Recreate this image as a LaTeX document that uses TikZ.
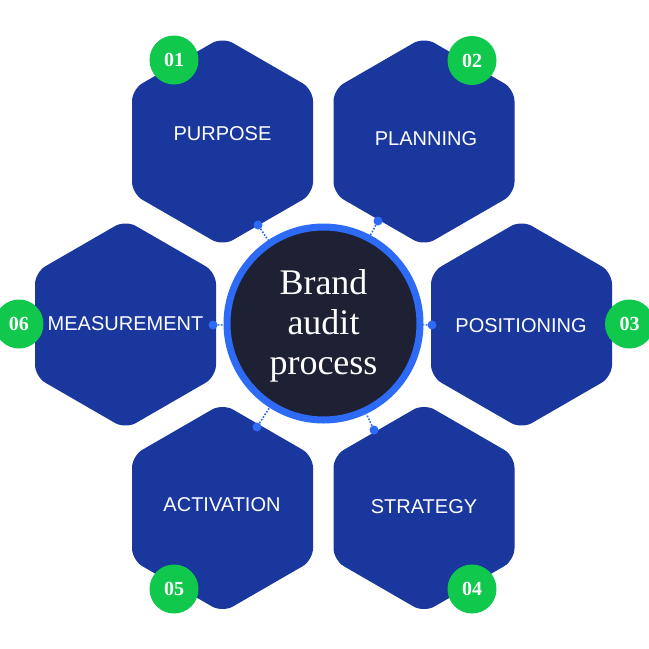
\documentclass[tikz,border=0pt]{standalone}
\usepackage{fontspec}
\setmainfont{Liberation Serif}
\newfontfamily\labelfont{Liberation Sans}
\usetikzlibrary{calc}
\definecolor{hexblue}{HTML}{1A379E}
\definecolor{ringblue}{HTML}{2D6AF6}
\definecolor{hubdark}{HTML}{1D2133}
\definecolor{badgegreen}{HTML}{10C84B}
\tikzset{
  hexfill/.style={fill=hexblue, rounded corners=12pt},
  hexlabel/.style={text=white, font=\labelfont\fontsize{20}{24}\selectfont, inner sep=0pt},
  badge/.style={circle, fill=badgegreen, minimum size=49pt, inner sep=0pt, text=white, font=\bfseries\fontsize{20}{22}\selectfont},
  hub/.style={circle, fill=hubdark, draw=ringblue, line width=7pt, minimum size=193pt, inner sep=0pt},
  hubtext/.style={text=white, align=center, font=\fontsize{36}{40}\selectfont},
  dotnode/.style={circle, fill=ringblue, minimum size=9pt, inner sep=0pt},
  dotline/.style={draw=ringblue, line width=1.6pt, dash pattern=on 1.6pt off 1.6pt},
}
\begin{document}
\begin{tikzpicture}[x=1pt, y=-1pt]
\useasboundingbox (0,0) rectangle (649,649);
\fill[white] (0,0) rectangle (649,649);
% hexagons
\foreach \cx/\cy in {222.5/141.5, 424/141.5, 521.5/324.5, 424/508, 222.5/508, 125.5/324.5}{
  \fill[hexfill] (\cx, \cy+104.5) -- (\cx+90.5, \cy+52.25) -- (\cx+90.5, \cy-52.25)
    -- (\cx, \cy-104.5) -- (\cx-90.5, \cy-52.25) -- (\cx-90.5, \cy+52.25) -- cycle;
}
% hub
\node[hub] (hub) at (323.5,323.5) {};
\node[hubtext] (hubt) at (323.5,326) {Brand\\audit\\process};
% dots and dotted connectors
\node[dotnode] (d1) at (258,225) {};
\node[dotnode] (d2) at (378,221) {};
\node[dotnode] (d3) at (432,325) {};
\node[dotnode] (d4) at (374,430) {};
\node[dotnode] (d5) at (257,427) {};
\node[dotnode] (d6) at (213,325) {};
\foreach \d in {d1,d2,d3,d4,d5,d6}{
  \draw[dotline] (\d) -- (hub);
}
% labels
\node[hexlabel] (l1) at (222.5,134) {PURPOSE};
\node[hexlabel] (l2) at (426,139) {PLANNING};
\node[hexlabel] (l3) at (521,326) {POSITIONING};
\node[hexlabel] (l4) at (424,507) {STRATEGY};
\node[hexlabel] (l5) at (222,505) {ACTIVATION};
\node[hexlabel] (l6) at (125.5,324) {MEASUREMENT};
% badges
\node[badge] (g1) at (174,60) {01};
\node[badge] (g2) at (472,60.5) {02};
\node[badge] (g3) at (629.5,324) {03};
\node[badge] (g4) at (472,589) {04};
\node[badge] (g5) at (174,589) {05};
\node[badge] (g6) at (19,324) {06};
\end{tikzpicture}
\end{document}
